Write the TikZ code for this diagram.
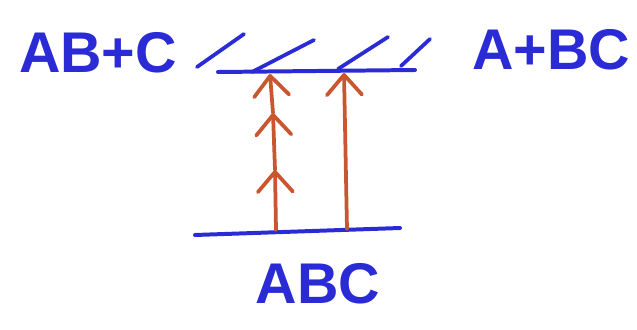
\documentclass[tikz,border=0pt]{standalone}
\usepackage{fontspec}
\setmainfont{Liberation Sans}
\usetikzlibrary{arrows.meta,calc}
\definecolor{levelline}{HTML}{2B2BD6}
\definecolor{photonline}{HTML}{C9562E}
\tikzset{
  level/.style={draw=levelline, line width=3.4pt, line cap=round},
  hatch/.style={draw=levelline, line width=3.2pt, line cap=round},
  photon/.style={draw=photonline, line width=3.2pt, line cap=round,
    -{Straight Barb[length=6mm,width=10.5mm,round]}},
  species/.style={font=\bfseries\fontsize{49}{56}\selectfont, text=levelline,
    inner sep=0pt},
}

\begin{document}
\begin{tikzpicture}[x=0.03cm,y=-0.03cm]
\useasboundingbox (0,0) rectangle (637,329);

% ---- Levels --------------------------------------------------------------
\coordinate (top_l) at (218,72);
\coordinate (top_r) at (415,70);
\coordinate (bot_l) at (195,235);
\coordinate (bot_r) at (400,228);
\draw[level] (top_l) -- (top_r);
\draw[level] (bot_l) -- (bot_r);

% Continuum above the upper level.
\coordinate (h1a) at (197,67);  \coordinate (h1b) at (244,34);
\coordinate (h2a) at (252,72);  \coordinate (h2b) at (314,40);
\coordinate (h3a) at (338,69);  \coordinate (h3b) at (388,37);
\coordinate (h4a) at (401,66);  \coordinate (h4b) at (430,39);
\foreach \h in {1,2,3,4}
  \draw[hatch] (h\h a) -- (h\h b);

% ---- Species -------------------------------------------------------------
\node[species] (abc_pair) at (98,53) {AB+C};
\node[species] (bc_pair) at (551,50) {A+BC};
\node[species] (abc) at (318,284) {ABC};

% ---- Excitation ----------------------------------------------------------
% three photons in steps (left), one photon (right)
\coordinate (m0) at (276,230);
\coordinate (m1) at (275,170);
\coordinate (m2) at (273,113);
\coordinate (m3) at (270,74);
\draw[photon] (m0) -- (m1);
\draw[photon] (m1) -- (m2);
\draw[photon] (m2) -- (m3);

\coordinate (s0) at (347,229);
\coordinate (s1) at (344,73);
\draw[photon] (s0) -- (s1);

\end{tikzpicture}
\end{document}
